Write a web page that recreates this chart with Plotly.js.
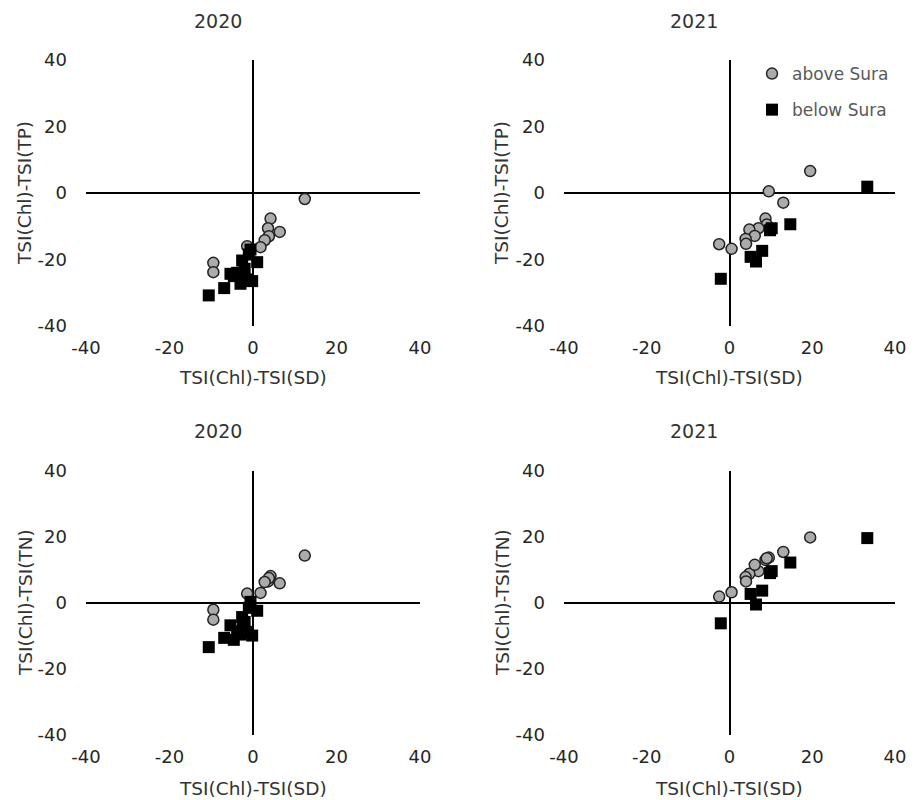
<!DOCTYPE html>
<html>
<head>
<meta charset="utf-8">
<script src="https://cdn.plot.ly/plotly-3.0.1.min.js"></script>
<style>html,body{margin:0;padding:0;background:#fff;}#chart{width:917px;height:800px;}</style>
</head>
<body>
<div id="chart"></div>
<script>
// ---- data ----
const tickVals = [-40, -20, 0, 20, 40];
const tickLabels = ["-40", "-20", "0", "20", "40"];
const yearLabels = ["2020", "2021"];
const seriesNames = ["above Sura", "below Sura"];
const xTitle = "TSI(Chl)-TSI(SD)";
const yTitleTP = "TSI(Chl)-TSI(TP)";
const yTitleTN = "TSI(Chl)-TSI(TN)";

// 2020
const sdAbove2020 = [12.4, 4.2, 3.6, 6.4, 3.8, 2.8, 1.8, -1.4, -9.5, -9.5];
const tpAbove2020 = [-1.8, -7.7, -10.6, -11.7, -13.0, -14.2, -16.3, -16.0, -21.0, -23.8];
const tnAbove2020 = [14.3, 8.1, 6.5, 5.9, 7.5, 6.3, 3.0, 2.8, -2.1, -5.1];
const sdBelow2020 = [-10.6, -6.9, -5.4, -4.6, -3.8, -3.0, -2.6, -2.0, -1.6, -1.0, -0.6, -0.2, 1.0, -2.4];
const tpBelow2020 = [-30.8, -28.6, -24.3, -25.0, -24.0, -27.3, -20.3, -22.8, -26.0, -18.5, -17.0, -26.5, -20.8, -25.5];
const tnBelow2020 = [-13.4, -10.6, -6.8, -11.2, -8.6, -9.6, -4.3, -5.8, -8.8, -1.5, 0.3, -9.9, -2.4, -7.5];

// 2021
const sdAbove2021 = [19.5, 9.5, 13.0, 8.7, 9.0, 7.0, 4.8, 6.1, 3.9, 4.0, -2.5, 0.5];
const tpAbove2021 = [6.6, 0.5, -2.9, -7.7, -9.5, -10.6, -11.0, -12.9, -13.8, -15.3, -15.4, -16.8];
const tnAbove2021 = [19.8, 13.7, 15.4, 13.0, 13.5, 9.6, 8.8, 11.5, 7.8, 6.5, 1.9, 3.2];
const sdBelow2021 = [33.3, 14.7, 10.2, 9.8, 7.9, 5.1, 6.4, -2.1];
const tpBelow2021 = [1.9, -9.4, -10.6, -11.2, -17.4, -19.2, -20.6, -25.8];
const tnBelow2021 = [19.6, 12.2, 9.6, 9.0, 3.7, 2.7, -0.5, -6.2];

// ---- styles ----
const FONT = "DejaVu Sans, Arial, sans-serif";
const aboveMarker = {symbol: "circle", size: 11, color: "#ababab", line: {color: "#222222", width: 1.5}};
const belowMarker = {symbol: "square", size: 12, color: "#000000", line: {color: "#000000", width: 0}};

function pair(xa, ya, xb, yb, ax, legend) {
  return [
    {type: "scatter", mode: "markers", x: xa, y: ya, xaxis: "x" + ax, yaxis: "y" + ax,
     name: seriesNames[0], marker: aboveMarker, showlegend: legend, legendgroup: "a", hoverinfo: "x+y"},
    {type: "scatter", mode: "markers", x: xb, y: yb, xaxis: "x" + ax, yaxis: "y" + ax,
     name: seriesNames[1], marker: belowMarker, showlegend: legend, legendgroup: "b", hoverinfo: "x+y"}
  ];
}

const data = [].concat(
  pair(sdAbove2020, tpAbove2020, sdBelow2020, tpBelow2020, "", false),
  pair(sdAbove2021, tpAbove2021, sdBelow2021, tpBelow2021, "2", true),
  pair(sdAbove2020, tnAbove2020, sdBelow2020, tnBelow2020, "3", false),
  pair(sdAbove2021, tnAbove2021, sdBelow2021, tnBelow2021, "4", false)
);

const W = 917, H = 800;
const colL = [86 / W, 420 / W], colR = [564 / W, 895 / W];
const rowT = [1 - 326 / H, 1 - 60 / H], rowB = [1 - 735 / H, 1 - 470.7 / H];

function xax(dom, anchor) {
  return {domain: dom, anchor: anchor, range: [-40, 40], tickvals: tickVals, ticktext: tickLabels, ticks: "",
    showgrid: false, showline: false, zeroline: true, zerolinecolor: "#000", zerolinewidth: 1.6,
    ticklabelstandoff: 9, tickfont: {family: FONT, size: 18, color: "#262626"}, fixedrange: true};
}
function yax(dom, anchor) {
  return {domain: dom, anchor: anchor, range: [-40, 40], tickvals: tickVals, ticktext: tickLabels, ticks: "",
    showgrid: false, showline: false, zeroline: true, zerolinecolor: "#000", zerolinewidth: 1.6,
    ticklabelstandoff: 18, tickfont: {family: FONT, size: 18, color: "#262626"}, fixedrange: true};
}

function ann(text, px, py, rot, size) {
  return {text: text, xref: "paper", yref: "paper", x: px / W, y: 1 - py / H,
    xanchor: "center", yanchor: "middle", showarrow: false, textangle: rot || 0,
    font: {family: FONT, size: size || 18.5, color: "#333"}};
}

const annotations = [
  ann(yearLabels[0], 218, 21, 0, 19), ann(yearLabels[1], 694, 21, 0, 19),
  ann(yearLabels[0], 218, 431, 0, 19), ann(yearLabels[1], 694, 431, 0, 19),
  ann(xTitle, 253, 378), ann(xTitle, 729, 378),
  ann(xTitle, 253, 788), ann(xTitle, 729, 788),
  ann(yTitleTP, 25, 193, -90), ann(yTitleTP, 502, 193, -90),
  ann(yTitleTN, 25, 603, -90), ann(yTitleTN, 502, 603, -90)
];

const layout = {
  width: W, height: H,
  margin: {l: 0, r: 0, t: 0, b: 0},
  paper_bgcolor: "#fff", plot_bgcolor: "#fff",
  font: {family: FONT, size: 18, color: "#333"},
  xaxis: xax(colL, "y"), yaxis: yax(rowT, "x"),
  xaxis2: xax(colR, "y2"), yaxis2: yax(rowT, "x2"),
  xaxis3: xax(colL, "y3"), yaxis3: yax(rowB, "x3"),
  xaxis4: xax(colR, "y4"), yaxis4: yax(rowB, "x4"),
  showlegend: true,
  legend: {x: 752 / W, y: 1 - 56 / H, xanchor: "left", yanchor: "top",
    bgcolor: "rgba(0,0,0,0)", borderwidth: 0, tracegroupgap: 11,
    font: {family: FONT, size: 17, color: "#595959"}, itemwidth: 30},
  annotations: annotations,
  hovermode: "closest"
};

Plotly.newPlot("chart", data, layout, {displayModeBar: false});
</script>
</body>
</html>
